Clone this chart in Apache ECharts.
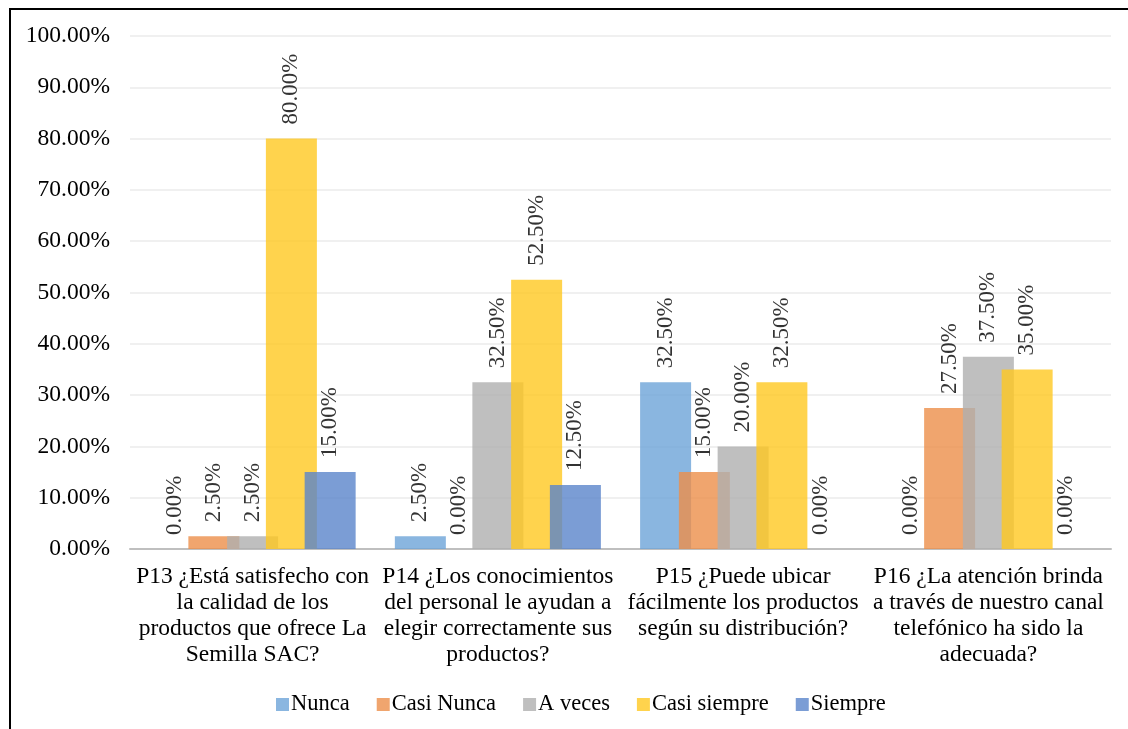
<!DOCTYPE html>
<html>
<head>
<meta charset="utf-8">
<script src="https://cdn.jsdelivr.net/npm/echarts@6/dist/echarts.min.js"></script>
<style>
  html, body { margin: 0; padding: 0; background: #ffffff; }
  #chart { width: 1128px; height: 729px; }
</style>
</head>
<body>
<div id="chart"></div>
<script>
// Survey questions (line breaks as printed under each group)
const categories = [
  'P13 ¿Está satisfecho con\nla calidad de los\nproductos que ofrece La\nSemilla SAC?',
  'P14 ¿Los conocimientos\ndel personal le ayudan a\nelegir correctamente sus\nproductos?',
  'P15 ¿Puede ubicar\nfácilmente los productos\nsegún su distribución?',
  'P16 ¿La atención brinda\na través de nuestro canal\ntelefónico ha sido la\nadecuada?'
];

// Answer shares (%) per question
const nunca       = [0, 2.5, 32.5, 0];
const casiNunca   = [2.5, 0, 15, 27.5];
const aVeces      = [2.5, 32.5, 20, 37.5];
const casiSiempre = [80, 52.5, 32.5, 35];
const siempre     = [15, 12.5, 0, 0];

const seriesNames = ['Nunca', 'Casi Nunca', 'A veces', 'Casi siempre', 'Siempre'];
const seriesData  = [nunca, casiNunca, aVeces, casiSiempre, siempre];
const seriesColors = ['#6da4d8', '#ec8e4a', '#afafaf', '#ffc820', '#5a84ca'];

// y-axis ticks (%)
const yTicks = { min: 0, max: 100, step: 10 };

const FONT = '"Liberation Serif", "Times New Roman", serif';
const pct = v => Number(v).toFixed(2) + '%';

const chart = echarts.init(document.getElementById('chart'), null, { renderer: 'canvas' });

const series = seriesNames.map((name, i) => ({
  name,
  type: 'bar',
  data: seriesData[i],
  barWidth: 51,
  barGap: '-24%',
  itemStyle: { color: seriesColors[i], opacity: 0.8 },
  label: {
    show: true,
    position: 'top',
    rotate: 90,
    align: 'left',
    verticalAlign: 'middle',
    distance: 14,
    formatter: p => pct(p.value),
    fontFamily: FONT,
    fontSize: 23,
    color: '#000'
  },
  emphasis: { disabled: true }
}));

chart.setOption({
  animation: false,
  backgroundColor: '#ffffff',
  grid: { left: 130, right: 17, top: 36, bottom: 180, containLabel: false },
  xAxis: {
    type: 'category',
    data: categories,
    axisTick: { show: false },
    axisLine: { lineStyle: { color: '#bfbfbf', width: 2 } },
    axisLabel: {
      interval: 0,
      margin: 15,
      fontFamily: FONT,
      fontSize: 23.5,
      lineHeight: 26,
      color: '#000',
      align: 'center'
    }
  },
  yAxis: {
    type: 'value',
    min: yTicks.min,
    max: yTicks.max,
    interval: yTicks.step,
    axisLine: { show: false },
    axisTick: { show: false },
    splitLine: { lineStyle: { color: '#ebebeb', width: 1.5 } },
    axisLabel: {
      margin: 20,
      formatter: v => pct(v),
      fontFamily: FONT,
      fontSize: 23.5,
      color: '#000'
    }
  },
  legend: {
    data: seriesNames,
    left: 276,
    top: 693,
    padding: 0,
    itemWidth: 13,
    itemHeight: 13,
    itemGap: 27,
    icon: 'rect',
    textStyle: { fontFamily: FONT, fontSize: 22.5, color: '#000', padding: [0, 0, 0, -3] }
  },
  graphic: [
    { type: 'line', shape: { x1: 10, y1: 9, x2: 1128, y2: 9 }, style: { stroke: '#000', lineWidth: 2 } },
    { type: 'line', shape: { x1: 10, y1: 8, x2: 10, y2: 729 }, style: { stroke: '#000', lineWidth: 2 } }
  ],
  series
});
</script>
</body>
</html>
